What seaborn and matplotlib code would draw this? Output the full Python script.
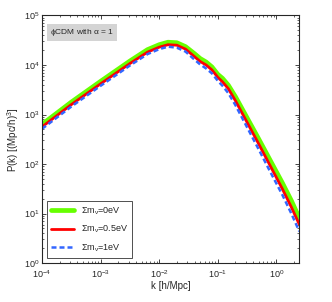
import matplotlib
matplotlib.use("Agg")
import matplotlib.pyplot as plt
import numpy as np
import pandas as pd
import seaborn as sns

# log10 of k [h/Mpc] sampled along the curves
logk = [-4.0, -3.5, -3.0, -2.5, -2.2, -2.0, -1.85, -1.7, -1.55, -1.4, -1.3, -1.2,
        -1.1, -1.0, -0.92, -0.82, -0.7, -0.5, -0.3, -0.1, 0.1, 0.25, 0.39]

# log10 of P(k) for each neutrino mass
logp_0eV = [2.80, 3.25, 3.67, 4.08, 4.31, 4.41, 4.46, 4.45, 4.37, 4.23, 4.13, 4.06,
            3.96, 3.81, 3.73, 3.59, 3.36, 2.93, 2.50, 2.06, 1.62, 1.27, 0.91]
logp_05eV = [2.75, 3.20, 3.62, 4.03, 4.26, 4.36, 4.41, 4.40, 4.32, 4.17, 4.07, 4.00,
             3.90, 3.75, 3.66, 3.52, 3.28, 2.84, 2.40, 1.95, 1.50, 1.14, 0.78]
logp_1eV = [2.71, 3.16, 3.58, 3.99, 4.22, 4.32, 4.37, 4.35, 4.27, 4.11, 4.01, 3.93,
            3.83, 3.68, 3.58, 3.43, 3.19, 2.74, 2.29, 1.83, 1.38, 1.01, 0.64]

labels = [r'$\Sigma m_\nu$=0eV', r'$\Sigma m_\nu$=0.5eV', r'$\Sigma m_\nu$=1eV']

k = 10 ** np.array(logk)
df = pd.DataFrame({
    'k': np.concatenate([k, k, k]),
    'P': 10 ** np.concatenate([logp_0eV, logp_05eV, logp_1eV]),
    'model': np.repeat(labels, len(k)),
})

sns.set_style("ticks")
plt.rcParams['font.family'] = ['Liberation Sans', 'DejaVu Sans']
plt.rcParams['mathtext.fontset'] = 'custom'
plt.rcParams['mathtext.rm'] = 'Liberation Sans'
plt.rcParams['mathtext.it'] = 'Liberation Sans'

fig = plt.figure(figsize=(3.32, 3.02), dpi=100)
ax = fig.add_axes([0.1265, 0.129, 0.775, 0.8197])

palette = {labels[0]: '#66ff00', labels[1]: '#ff0000', labels[2]: '#3366ff'}
sns.lineplot(data=df, x='k', y='P', hue='model', style='model', palette=palette,
             dashes={labels[0]: '', labels[1]: '', labels[2]: (2, 1.2)},
             ax=ax, legend=False)
widths = [3.4, 2.0, 1.8]
for line, w in zip(ax.get_lines(), widths):
    line.set_linewidth(w)
    line.set_solid_joinstyle('round')

ax.set_xscale('log')
ax.set_yscale('log')
ax.set_xlim(1e-4, 10 ** 0.39)
ax.set_ylim(1, 1e5)
ax.set_xlabel('k [h/Mpc]', fontsize=7, labelpad=1)
ax.set_ylabel(r'P(k) [(Mpc/h)$^3$]', fontsize=7, labelpad=2)
ax.tick_params(which='both', direction='in', top=True, right=True, labelsize=6.5)
ax.tick_params(axis='x', which='major', pad=3.5)
ax.tick_params(axis='y', which='major', pad=2)
ax.tick_params(which='major', length=3, width=0.6)
ax.tick_params(which='minor', length=1.5, width=0.5)
for s in ax.spines.values():
    s.set_linewidth(0.8)

ax.text(0.03, 0.955, r'$\phi$CDM with $\alpha$ = 1', transform=ax.transAxes,
        fontsize=6, va='top', ha='left',
        bbox=dict(facecolor='#d4d4d4', edgecolor='none', boxstyle='square,pad=0.35'))

handles = [plt.Line2D([], [], color='#66ff00', lw=3.4),
           plt.Line2D([], [], color='#ff0000', lw=2.0),
           plt.Line2D([], [], color='#3366ff', lw=1.8, ls=(0, (2, 1.2)))]
leg = ax.legend(handles, labels, loc='lower left', fontsize=6.5, frameon=True,
                fancybox=False, edgecolor='black', handlelength=2.5,
                borderaxespad=0.6, labelspacing=0.8)
leg.get_frame().set_linewidth(0.6)

fig.savefig('out.png', dpi=100)
